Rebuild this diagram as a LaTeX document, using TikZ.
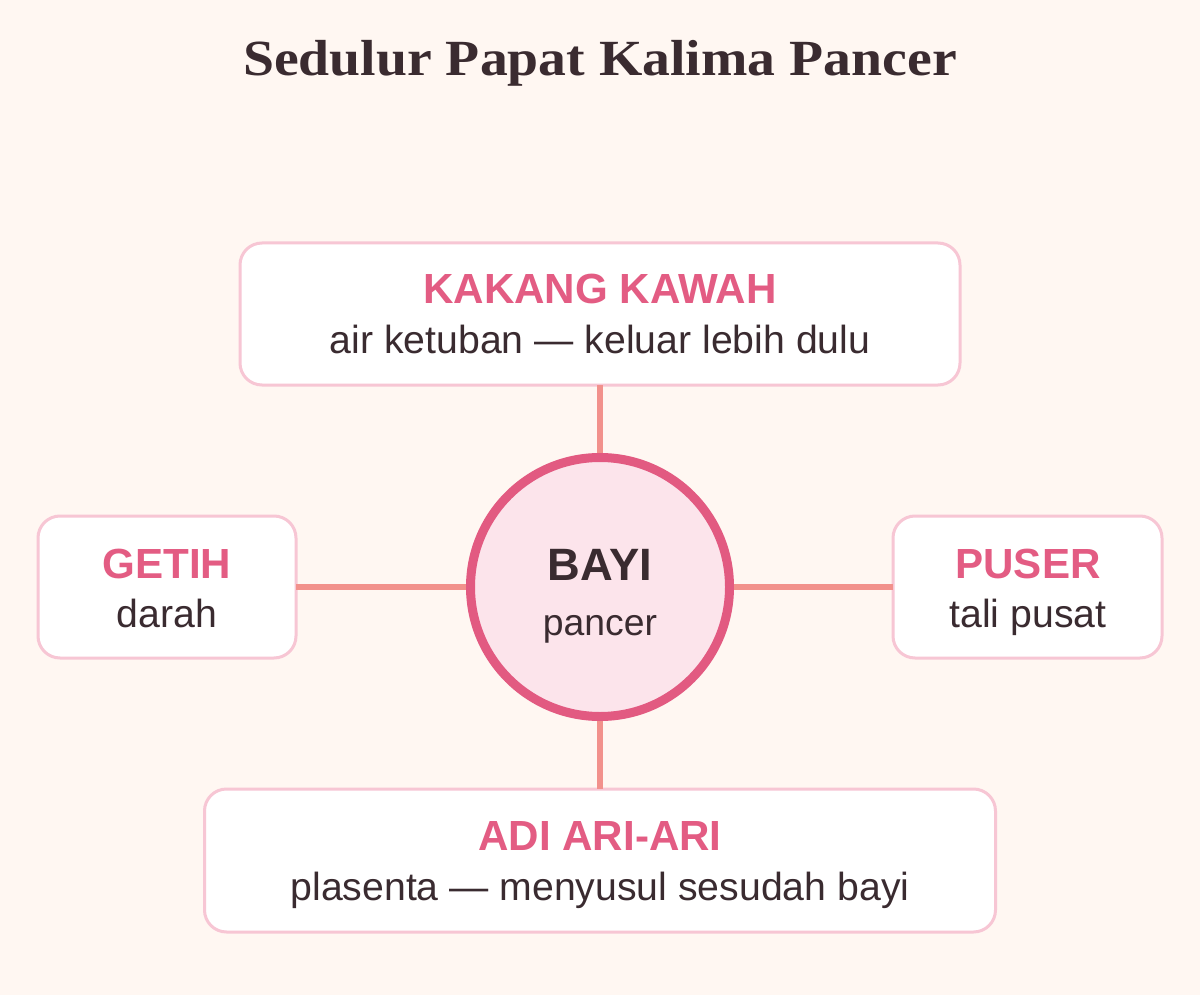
\documentclass[tikz,border=0pt]{standalone}
\usepackage{fontspec}
\setmainfont{Liberation Sans}
\newfontfamily\titlefont[FakeStretch=1.1]{Liberation Serif}
\definecolor{bg}{HTML}{FFF7F2}
\definecolor{dark}{HTML}{3A2B30}
\definecolor{pinkhd}{HTML}{E35C83}
\definecolor{boxline}{HTML}{F7C6D4}
\definecolor{conn}{HTML}{F2918C}
\definecolor{circfill}{HTML}{FCE4EB}
\definecolor{circline}{HTML}{E25A81}
\tikzset{
  card/.style={draw=boxline, line width=2.25pt, fill=white, rounded corners=16.5pt,
    minimum height=106.5pt, inner sep=0pt, outer sep=0pt},
  hd/.style={anchor=base, inner sep=0pt, text=pinkhd, font=\bfseries\fontsize{31.6}{36}\selectfont},
  sub/.style={anchor=base, inner sep=0pt, text=dark, font=\fontsize{29.4}{34}\selectfont},
  link/.style={draw=conn, line width=4.1pt},
}
\begin{document}
\begin{tikzpicture}[x=0.75pt,y=-0.75pt]
\fill[bg] (0,0) rectangle (1200,995);
\useasboundingbox (0,0) rectangle (1200,995);

\node[anchor=base, inner sep=0pt, text=dark, font=\titlefont\bfseries\fontsize{38}{44}\selectfont] (title) at (600,76) {Sedulur Papat Kalima Pancer};

% cards
\node[card, minimum width=540pt] (kk) at (600,314) {};
\node[card, minimum width=193.5pt] (gt) at (167,587) {};
\node[card, minimum width=201.75pt] (ps) at (1027.5,587) {};
\node[card, minimum width=593.25pt, minimum height=107.25pt] (ar) at (600,860.5) {};

% centre
\node[circle, draw=circline, fill=circfill, line width=6.75pt, minimum size=194.25pt, inner sep=0pt] (bayi) at (600,587) {};

% connectors
\draw[link] (kk.south) -- (bayi.north);
\draw[link] (bayi.south) -- (ar.north);
\draw[link] (gt.east) -- (bayi.west);
\draw[link] (bayi.east) -- (ps.west);

% texts
\node[hd] (kkh) at (600,303) {KAKANG KAWAH};
\node[sub] (kks) at (600,353) {air ketuban — keluar lebih dulu};
\node[hd] (gth) at (167,578) {GETIH};
\node[sub] (gts) at (167,627) {darah};
\node[hd] (psh) at (1028,578) {PUSER};
\node[sub] (pss) at (1028,627) {tali pusat};
\node[hd] (arh) at (600,850) {ADI ARI-ARI};
\node[sub] (ars) at (600,900) {plasenta — menyusul sesudah bayi};
\node[anchor=base, inner sep=0pt, text=dark, font=\bfseries\fontsize{34}{40}\selectfont] (bh) at (600,580) {BAYI};
\node[anchor=base, inner sep=0pt, text=dark, font=\fontsize{28}{32}\selectfont] (bs) at (600,635) {pancer};
\end{tikzpicture}
\end{document}
